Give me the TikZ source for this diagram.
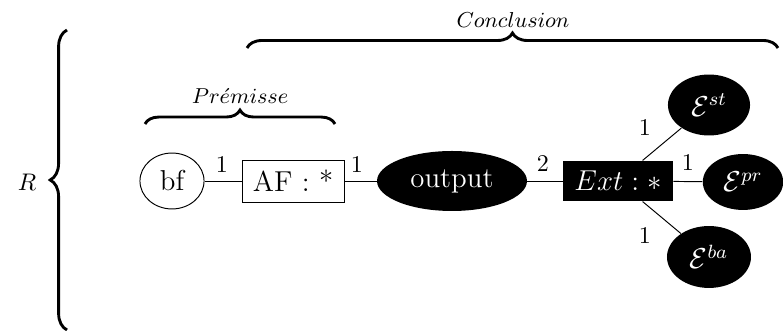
\documentclass[tikz,border=0pt]{standalone}
\usetikzlibrary{shapes.geometric,decorations.pathreplacing}
\begin{document}
\begin{tikzpicture}[x=0.41667pt,y=-0.41667pt,
  every node/.style={inner sep=0pt},
  wnode/.style={draw,ellipse,font=\large},
  bnode/.style={fill=black,text=white,ellipse,font=\large},
  bbox/.style={fill=black,text=white,rectangle,font=\large},
  wbox/.style={draw,rectangle,font=\large},
  lbl/.style={font=\normalsize},
  bracelab/.style={font=\small},
  bracestyle/.style={decorate,decoration={brace,amplitude=#1},line width=1.2pt},
  link/.style={line width=0.4pt}]
\useasboundingbox (0,0) rectangle (783,331);
% nodes
\node[wnode,minimum width=26.7pt,minimum height=23.3pt] (bf) at (172,181) {bf};
\node[wbox,minimum width=42.5pt,minimum height=17.5pt] (af) at (293,181) {AF : *};
\node[bnode,minimum width=62.5pt,minimum height=25pt] (out) at (452,181) {output};
\node[bbox,minimum width=45.8pt,minimum height=16.7pt] (ext) at (618,181) {$Ext : *$};
\node[bnode,minimum width=34.2pt,minimum height=25.4pt] (est) at (709,105) {$\mathcal{E}^{st}$};
\node[bnode,minimum width=33.5pt,minimum height=23.3pt] (epr) at (743,182) {$\mathcal{E}^{pr}$};
\node[bnode,minimum width=35pt,minimum height=25.8pt] (eba) at (709,257) {$\mathcal{E}^{ba}$};
% links
\draw[link] (bf) -- (af);
\draw[link] (af) -- (out);
\draw[link] (out) -- (ext);
\draw[link] (ext) -- (epr);
\draw[link] (ext) -- (est);
\draw[link] (ext) -- (eba);
% labels
\node[lbl] (l1) at (222,165) {1};
\node[lbl] (l2) at (357,165) {1};
\node[lbl] (l3) at (543,164) {2};
\node[lbl] (l4) at (688,163) {1};
\node[lbl] (l5) at (645,128) {1};
\node[lbl] (l6) at (645,236) {1};
% R and braces
\node[font=\normalsize] (r) at (27,182) {$R$};
\coordinate (lbA) at (67,330);
\coordinate (lbB) at (67,30);
\draw[bracestyle=7pt] (lbA) -- (lbB);
\coordinate (cbA) at (247,48);
\coordinate (cbB) at (778,48);
\draw[bracestyle=6.25pt] (cbA) -- (cbB);
\node[bracelab] (conc) at (513,20) {$Conclusion$};
\coordinate (pbA) at (145,124);
\coordinate (pbB) at (335,124);
\draw[bracestyle=5.8pt] (pbA) -- (pbB);
\node[bracelab] (prem) at (240,96) {$Pr\acute{e}misse$};
\end{tikzpicture}
\end{document}
